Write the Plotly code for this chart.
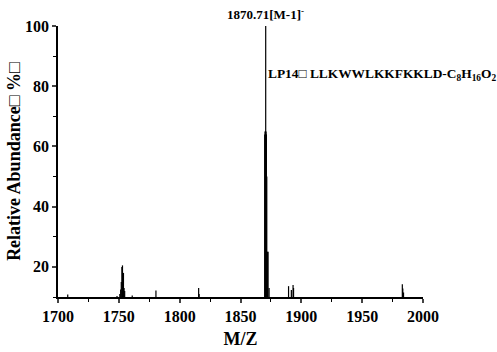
import plotly.graph_objects as go

mz = [1708.0, 1748.5, 1750.8, 1751.5, 1752.0, 1752.5, 1753.0, 1753.4, 1753.8, 1754.3, 1754.8, 1761.0,
      1780.5, 1815.6, 1816.0, 1869.9, 1870.2, 1870.5, 1870.71, 1871.0, 1871.3, 1871.6, 1872.3, 1872.6, 1873.5,
      1889.5, 1891.8, 1893.2, 1893.6, 1983.0, 1983.4, 1984.0]
intensity = [10.8, 10.3, 11.0, 12.5, 15.0, 20.0, 20.5, 18.0, 18.0, 13.0, 12.0, 10.5,
             12.2, 13.0, 11.0, 64.0, 65.0, 65.0, 100.0, 65.0, 64.0, 50.0, 25.0, 25.0, 13.0,
             13.6, 12.3, 14.0, 13.0, 14.2, 12.8, 11.5]
x_ticks = [1700, 1750, 1800, 1850, 1900, 1950, 2000]
y_ticks = [20, 40, 60, 80, 100]

baseline = 10
xs, ys = [], []
for m, v in zip(mz, intensity):
    xs += [m, m, None]
    ys += [baseline, v, None]

font_main = "Liberation Serif"

fig = go.Figure()
fig.add_trace(go.Scatter(x=xs, y=ys, mode="lines", line=dict(color="black", width=1.2),
                         hoverinfo="skip", showlegend=False))

fig.update_layout(
    width=497, height=352,
    margin=dict(l=58, r=74, t=26, b=55),
    plot_bgcolor="white", paper_bgcolor="white",
    font=dict(family=font_main, size=16, color="black"),
    xaxis=dict(range=[1700, 2000], tickvals=x_ticks, ticktext=[str(t) for t in x_ticks],
               automargin=False,
               ticks="outside", ticklen=4, tickwidth=1.5, showline=True, linecolor="black",
               linewidth=1.5, showgrid=False, zeroline=False,
               tickfont=dict(family=font_main, size=16, weight=700),
               minor=dict(ticks="outside", ticklen=3, tickwidth=1.2, dtick=25, tick0=1700,
                          tickcolor="black", showgrid=False),
               title=dict(text="<b>M/Z</b>", font=dict(family=font_main, size=18), standoff=8)),
    yaxis=dict(range=[10, 100], tickvals=y_ticks, ticktext=[str(t) for t in y_ticks],
               automargin=False,
               ticks="outside", ticklen=4, tickwidth=1.5, showline=True, linecolor="black",
               linewidth=1.5, showgrid=False, zeroline=False,
               tickfont=dict(family=font_main, size=16, weight=700),
               minor=dict(ticks="outside", ticklen=3, tickwidth=1.2, dtick=10, tick0=0,
                          tickcolor="black", showgrid=False),
               title=dict(text="<b>Relative Abundance□ %□</b>", font=dict(family=font_main, size=18),
                          standoff=0)),
)

fig.add_annotation(x=1870.71, y=100, xref="x", yref="y", yshift=2,
                   text="<b>1870.71[M-1]<sup>-</sup></b>", showarrow=False,
                   yanchor="bottom", xanchor="center",
                   font=dict(family=font_main, size=13))
fig.add_annotation(x=1871.0, y=84, xref="x", yref="y",
                   text="<b>LP14□ LLKWWLKKFKKLD-C<sub>8</sub>H<sub>16</sub>O<sub>2</sub></b>",
                   showarrow=False, xanchor="left", yanchor="middle",
                   font=dict(family=font_main, size=13.4))

fig.write_html("out.html")
